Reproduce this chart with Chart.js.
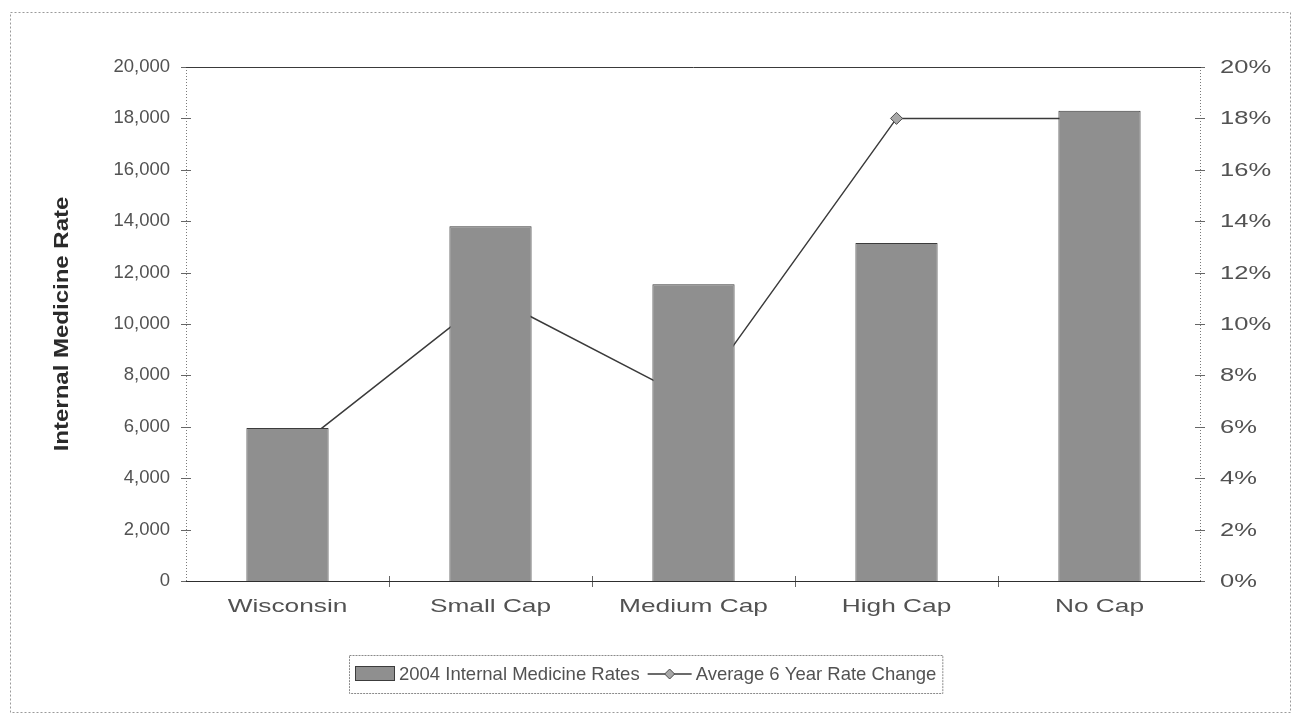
<!DOCTYPE html>
<html>
<head>
<meta charset="utf-8">
<script src="https://cdn.jsdelivr.net/npm/chart.js@4/dist/chart.umd.min.js"></script>
<style>
  html, body { margin: 0; padding: 0; background: #ffffff; }
  #wrap { width: 1296px; height: 723px; position: relative; }
</style>
</head>
<body>
<div id="wrap"><canvas id="chart" width="1296" height="723"></canvas></div>
<script>
// Categories and series values
const categories = ['Wisconsin', 'Small Cap', 'Medium Cap', 'High Cap', 'No Cap'];
const rates2004 = [5950, 13800, 11550, 13150, 18300];      // 2004 Internal Medicine Rates
const rateChange = [4.9, 11.1, 7.0, 18.0, 18.0];            // Average 6 Year Rate Change (%)
const seriesNames = ['2004 Internal Medicine Rates', 'Average 6 Year Rate Change'];
const axisTitle = 'Internal Medicine Rate';

const FONT = "'Liberation Sans', Arial, Helvetica, sans-serif";
const TEXT = '#525252';
const SIZE = 18.5;

const PLOT_LEFT = 186, PLOT_RIGHT = 1201, PLOT_TOP = 67, PLOT_BOTTOM = 581;

// Text drawn with a horizontal stretch (wide face used on the category and percent axes)
function wideText(ctx, text, x, y, sx, align, rot) {
  ctx.save();
  ctx.translate(x, y);
  if (rot) ctx.rotate(rot);
  ctx.scale(sx, 1);
  ctx.textAlign = align;
  ctx.textBaseline = 'middle';
  ctx.fillText(text, 0, 0);
  ctx.restore();
}

// Axis lines, tick crosses and the outer frame
const framePlugin = {
  id: 'frame',
  beforeDatasetsDraw(chart) {
    const { ctx, chartArea: a, scales } = chart;
    ctx.save();
    // dotted outer frame
    ctx.strokeStyle = '#9a9a9a';
    ctx.lineWidth = 1;
    ctx.setLineDash([2, 2]);
    ctx.strokeRect(10.5, 12.5, 1280, 700);
    // dotted side axes
    ctx.strokeStyle = '#7a7a7a';
    ctx.setLineDash([1, 2]);
    ctx.beginPath();
    ctx.moveTo(a.left + 0.5, a.top); ctx.lineTo(a.left + 0.5, a.bottom);
    ctx.moveTo(a.right - 0.5, a.top); ctx.lineTo(a.right - 0.5, a.bottom);
    ctx.stroke();
    // tick crosses on both value axes
    ctx.setLineDash([]);
    ctx.strokeStyle = '#666';
    ctx.beginPath();
    scales.y.ticks.forEach(t => {
      const py = Math.round(scales.y.getPixelForValue(t.value)) + 0.5;
      ctx.moveTo(a.left - 5, py); ctx.lineTo(a.left + 5, py);
    });
    scales.y2.ticks.forEach(t => {
      const py = Math.round(scales.y2.getPixelForValue(t.value)) + 0.5;
      ctx.moveTo(a.right - 6, py); ctx.lineTo(a.right + 4, py);
    });
    // category boundary ticks
    for (let i = 1; i < categories.length; i++) {
      const px = Math.round((scales.x.getPixelForValue(i - 1) + scales.x.getPixelForValue(i)) / 2) + 0.5;
      ctx.moveTo(px, a.bottom - 5); ctx.lineTo(px, a.bottom + 6);
    }
    ctx.stroke();
    // top border
    ctx.strokeStyle = '#3a3a3a';
    ctx.beginPath();
    ctx.moveTo(a.left, a.top + 0.5); ctx.lineTo(a.right, a.top + 0.5);
    ctx.stroke();
    ctx.restore();
  },
  afterDatasetsDraw(chart) {
    const { ctx, chartArea: a, scales } = chart;
    ctx.save();
    ctx.strokeStyle = '#2e2e2e';
    ctx.lineWidth = 1.2;
    ctx.beginPath();
    ctx.moveTo(a.left, a.bottom + 0.5); ctx.lineTo(a.right, a.bottom + 0.5);
    ctx.stroke();

    // category labels
    ctx.font = SIZE + 'px ' + FONT;
    ctx.fillStyle = TEXT;
    scales.x.ticks.forEach((t, i) => {
      wideText(ctx, scales.x.getLabelForValue(t.value), scales.x.getPixelForTick(i), 607, 1.42, 'center');
    });
    // percent labels on the right axis
    scales.y2.ticks.forEach(t => {
      wideText(ctx, t.value + '%', a.right + 19, scales.y2.getPixelForValue(t.value) + 1, 1.38, 'left');
    });
    // left axis title
    ctx.font = 'bold 20px ' + FONT;
    ctx.fillStyle = '#2a2a2a';
    wideText(ctx, axisTitle, 62, (a.top + a.bottom) / 2, 1.2, 'center', -Math.PI / 2);
    ctx.restore();
  }
};

// Boxed legend with a bar swatch and a line-with-diamond key
const legendBoxPlugin = {
  id: 'legendBox',
  afterDraw(chart) {
    const { ctx } = chart;
    const bar = chart.data.datasets[0], line = chart.data.datasets[1];
    ctx.save();
    ctx.font = SIZE + 'px ' + FONT;
    const w1 = ctx.measureText(bar.label).width;
    const w2 = ctx.measureText(line.label).width;
    const swW = 40, lineW = 44, gap = 4, gap2 = 8, pad = 6;
    const total = pad + swW + gap + w1 + gap2 + lineW + gap + w2 + pad;
    const boxL = Math.round(646 - total / 2), boxT = 655, boxH = 38;
    const cy = boxT + boxH / 2;
    ctx.strokeStyle = '#8a8a8a';
    ctx.lineWidth = 1;
    ctx.setLineDash([2, 1]);
    ctx.strokeRect(boxL + 0.5, boxT + 0.5, total, boxH);
    ctx.setLineDash([]);
    let x = boxL + pad;
    ctx.fillStyle = bar.backgroundColor;
    ctx.fillRect(x, cy - 8, swW, 15);
    ctx.strokeStyle = bar.borderColor;
    ctx.strokeRect(x + 0.5, cy - 7.5, swW - 1, 14);
    x += swW + gap;
    ctx.fillStyle = TEXT;
    ctx.textBaseline = 'middle';
    ctx.fillText(bar.label, x, cy + 1);
    x += w1 + gap2;
    ctx.strokeStyle = line.borderColor;
    ctx.lineWidth = 1.5;
    ctx.beginPath();
    ctx.moveTo(x, cy); ctx.lineTo(x + lineW, cy);
    ctx.stroke();
    const dx = x + lineW / 2, r = 5;
    ctx.beginPath();
    ctx.moveTo(dx, cy - r); ctx.lineTo(dx + r, cy); ctx.lineTo(dx, cy + r); ctx.lineTo(dx - r, cy);
    ctx.closePath();
    ctx.fillStyle = line.pointBackgroundColor;
    ctx.fill();
    ctx.lineWidth = 1;
    ctx.strokeStyle = line.pointBorderColor;
    ctx.stroke();
    x += lineW + gap;
    ctx.fillStyle = TEXT;
    ctx.fillText(line.label, x, cy + 1);
    ctx.restore();
  }
};

const tickFont = { family: FONT, size: SIZE };

new Chart(document.getElementById('chart'), {
  data: {
    labels: categories,
    datasets: [
      {
        type: 'bar',
        label: seriesNames[0],
        data: rates2004,
        yAxisID: 'y',
        backgroundColor: '#8f8f8f',
        borderColor: '#3c3c3c',
        borderWidth: 1,
        categoryPercentage: 1,
        barPercentage: 0.405
      },
      {
        type: 'line',
        label: seriesNames[1],
        data: rateChange,
        yAxisID: 'y2',
        borderColor: '#3a3a3a',
        borderWidth: 1.5,
        tension: 0,
        pointStyle: 'rectRot',
        pointRadius: 6,
        pointBackgroundColor: '#a8a8a8',
        pointBorderColor: '#4a4a4a',
        pointBorderWidth: 1
      }
    ]
  },
  options: {
    responsive: false,
    animation: false,
    devicePixelRatio: 1,
    layout: { padding: { top: PLOT_TOP, left: 0, right: 0, bottom: 0 } },
    plugins: { legend: { display: false }, tooltip: { enabled: false } },
    scales: {
      x: {
        grid: { display: false, drawTicks: false },
        border: { display: false },
        ticks: { display: false, font: tickFont },
        afterFit: s => { s.height = 723 - PLOT_BOTTOM; }
      },
      y: {
        position: 'left',
        min: 0, max: 20000,
        grid: { display: false, drawTicks: false },
        border: { display: false },
        ticks: {
          stepSize: 2000, font: tickFont, color: TEXT, padding: 16,
          callback: v => v.toLocaleString('en-US')
        },
        afterFit: s => { s.width = PLOT_LEFT; }
      },
      y2: {
        position: 'right',
        min: 0, max: 20,
        grid: { display: false, drawTicks: false },
        border: { display: false },
        ticks: { display: false, stepSize: 2, font: tickFont },
        afterFit: s => { s.width = 1296 - PLOT_RIGHT; }
      }
    }
  },
  plugins: [framePlugin, legendBoxPlugin]
});
</script>
</body>
</html>
